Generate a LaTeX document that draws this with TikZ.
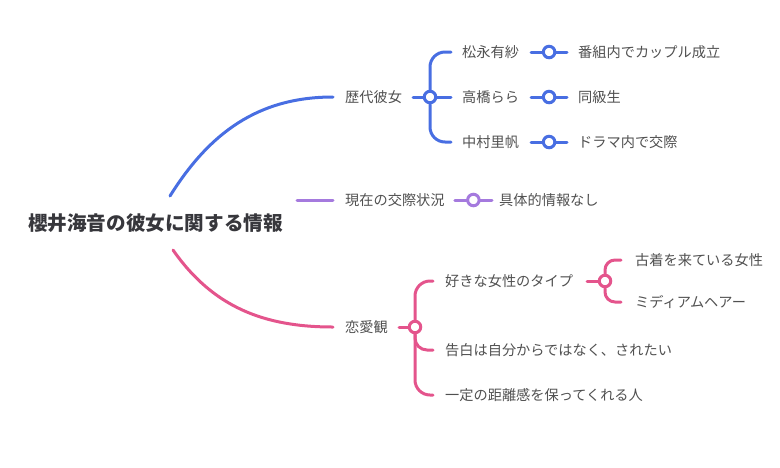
\documentclass[tikz,border=0pt]{standalone}
\usepackage{fontspec}
\usepackage{tikz}
\usetikzlibrary{positioning}
\newfontfamily\jp{Noto Sans CJK JP}
\definecolor{bluebr}{RGB}{72,110,226}
\definecolor{purpbr}{RGB}{165,122,222}
\definecolor{pinkbr}{RGB}{228,84,140}
\definecolor{txtc}{RGB}{80,80,80}
\definecolor{rootc}{RGB}{55,55,60}
\tikzset{
        lbl/.style={anchor=west, inner sep=0pt, text=txtc,
            font=\jp\fontsize{14.2}{16}\selectfont},
        wire/.style={draw=#1, line width=3pt, line cap=round},
        knob/.style={circle, draw=#1, line width=3pt, fill=white,
            minimum size=11.5pt, inner sep=0pt},
    }

\begin{document}
\begin{tikzpicture}[x=1pt,y=-1pt]
          \useasboundingbox (0,0) rectangle (780,467);
          % root
          \node[lbl,text=rootc,font=\jp\bfseries\fontsize{19.6}{22}\selectfont] (root) at (28,223) {櫻井海音の彼女に関する情報};
          \coordinate (@rb) at (170,196);
          \coordinate (@rp) at (297,200);
          \coordinate (@rk) at (173,250);
          % first level
          \node[lbl] (past) at (345,97) {歴代彼女};
          \node[lbl] (now) at (345,200) {現在の交際状況};
          \node[lbl] (love) at (345,327) {恋愛観};
          \draw[wire=bluebr] (@rb) to[out=58,in=180] ([xshift=-12pt]past.west);
          \draw[wire=purpbr] (@rp) -- ([xshift=-12pt]now.west);
          \draw[wire=pinkbr] (@rk) to[out=-55,in=180] ([xshift=-12pt]love.west);
          % past girlfriends
          \node[knob=bluebr] (pastk) at (430,97) {};
          \node[lbl] (gf1) at (462,52) {松永有紗};
          \node[lbl] (gf2) at (462,97) {高橋らら};
          \node[lbl] (gf3) at (462,142) {中村里帆};
          \node[lbl] (gf1d) at (578,52) {番組内でカップル成立};
          \node[lbl] (gf2d) at (578,97) {同級生};
          \node[lbl] (gf3d) at (578,142) {ドラマ内で交際};
          \draw[wire=bluebr] ([xshift=11pt]past.east) -- (pastk.west);
          \draw[wire=bluebr,rounded corners=15pt] (pastk.north) |- ([xshift=-11pt]gf1.west);
          \draw[wire=bluebr] (pastk.east) -- ([xshift=-11pt]gf2.west);
          \draw[wire=bluebr,rounded corners=15pt] (pastk.south) |- ([xshift=-11pt]gf3.west);
          \draw[wire=bluebr] ([xshift=12pt]gf1.east) -- node[knob=bluebr] (gf1k) {} ([xshift=-11pt]gf1d.west);
          \draw[wire=bluebr] ([xshift=12pt]gf2.east) -- node[knob=bluebr] (gf2k) {} ([xshift=-11pt]gf2d.west);
          \draw[wire=bluebr] ([xshift=12pt]gf3.east) -- node[knob=bluebr] (gf3k) {} ([xshift=-11pt]gf3d.west);
          % current status
          \node[lbl] (nowd) at (499,200) {具体的情報なし};
          \draw[wire=purpbr] ([xshift=10pt]now.east) -- node[knob=purpbr] (nowk) {} ([xshift=-7pt]nowd.west);
          % view of love
          \node[knob=pinkbr] (lovek) at (415,327) {};
          \node[lbl] (typ) at (445,281) {好きな女性のタイプ};
          \node[lbl] (conf) at (445,350) {告白は自分からではなく、されたい};
          \node[lbl] (dist) at (445,395) {一定の距離感を保ってくれる人};
          \draw[wire=pinkbr] ([xshift=11pt]love.east) -- (lovek.west);
          \draw[wire=pinkbr,rounded corners=15pt] (lovek.north) |- ([xshift=-12pt]typ.west);
          \draw[wire=pinkbr,rounded corners=12pt] (lovek.south) |- ([xshift=-12pt]conf.west);
          \draw[wire=pinkbr,rounded corners=15pt] (lovek.south) |- ([xshift=-12pt]dist.west);
          % type details
          \node[knob=pinkbr] (typk) at (605,281) {};
          \node[lbl] (typ1) at (635,260) {古着を来ている女性};
          \node[lbl] (typ2) at (635,302) {ミディアムヘアー};
          \draw[wire=pinkbr] ([xshift=14pt]typ.east) -- (typk.west);
          \draw[wire=pinkbr,rounded corners=10pt] (typk.north) |- ([xshift=-14pt]typ1.west);
          \draw[wire=pinkbr,rounded corners=10pt] (typk.south) |- ([xshift=-14pt]typ2.west);
        \end{tikzpicture}
\end{document}
